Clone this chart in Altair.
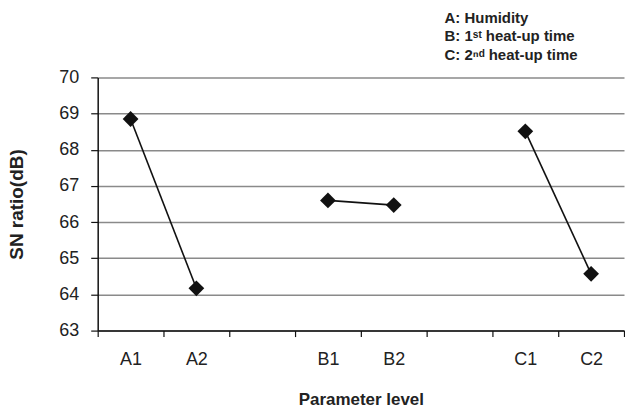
import altair as alt
import pandas as pd

levels = ["A1", "A2", "B1", "B2", "C1", "C2"]
groups = ["A", "A", "B", "B", "C", "C"]
sn_ratio = [68.85, 64.17, 66.60, 66.47, 68.51, 64.57]
x_domain = ["A1", "A2", " ", "B1", "B2", "  ", "C1", "C2"]
notes = ["A: Humidity", "B: 1ˢᵗ heat-up time", "C: 2ⁿᵈ heat-up time"]

df = pd.DataFrame({"level": levels, "group": groups, "sn": sn_ratio})
notes_df = pd.DataFrame({"note": notes, "i": [0, 1, 2]})

FONT = "Liberation Sans"

x = alt.X("level:N", scale=alt.Scale(domain=x_domain, paddingInner=0, paddingOuter=0),
          axis=alt.Axis(title="Parameter level", labelAngle=0, tickBand="extent",
                        labelFontSize=18, labelFont=FONT, labelColor="#222",
                        labelPadding=14, tickSize=6, tickColor="#111", domainColor="#111",
                        domainWidth=1.5, tickWidth=1.2, grid=False,
                        titleFont=FONT, titleFontSize=17, titleFontWeight="bold",
                        titleColor="#222", titlePadding=23))
y = alt.Y("sn:Q", scale=alt.Scale(domain=[63, 70], nice=False, zero=False),
          axis=alt.Axis(title="SN ratio(dB)", values=list(range(63, 71)),
                        labelFontSize=18, labelFont=FONT, labelColor="#222",
                        labelPadding=12, tickSize=7, tickColor="#111", domainColor="#111",
                        domainWidth=1.5, tickWidth=1.2, grid=True, gridColor="#8a8a8a",
                        gridWidth=1.5, titleFont=FONT, titleFontSize=19,
                        titleFontWeight="bold", titleColor="#222", titlePadding=32))

base = alt.Chart(df)
lines = base.mark_line(color="#111", strokeWidth=1.6).encode(x=x, y=y, detail="group:N")
points = base.mark_point(shape="diamond", filled=True, color="#111",
                         size=250, opacity=1).encode(x=x, y=y)

note_text = alt.Chart(notes_df).transform_calculate(
    py="-60 + datum.i * 18.8"
).mark_text(
    align="left", baseline="middle", font=FONT, fontSize=15, fontWeight="bold",
    color="#222").encode(
    x=alt.value(348),
    y=alt.Y("py:Q", scale=None, axis=None),
    text="note:N")

chart = alt.layer(lines, points, note_text).properties(
    width=528, height=254,
    padding={"left": 7, "top": 10, "right": 0, "bottom": 0},
    background="white",
).configure_view(stroke=None)

chart.save("out.html", embed_options={"renderer": "svg", "actions": False})
